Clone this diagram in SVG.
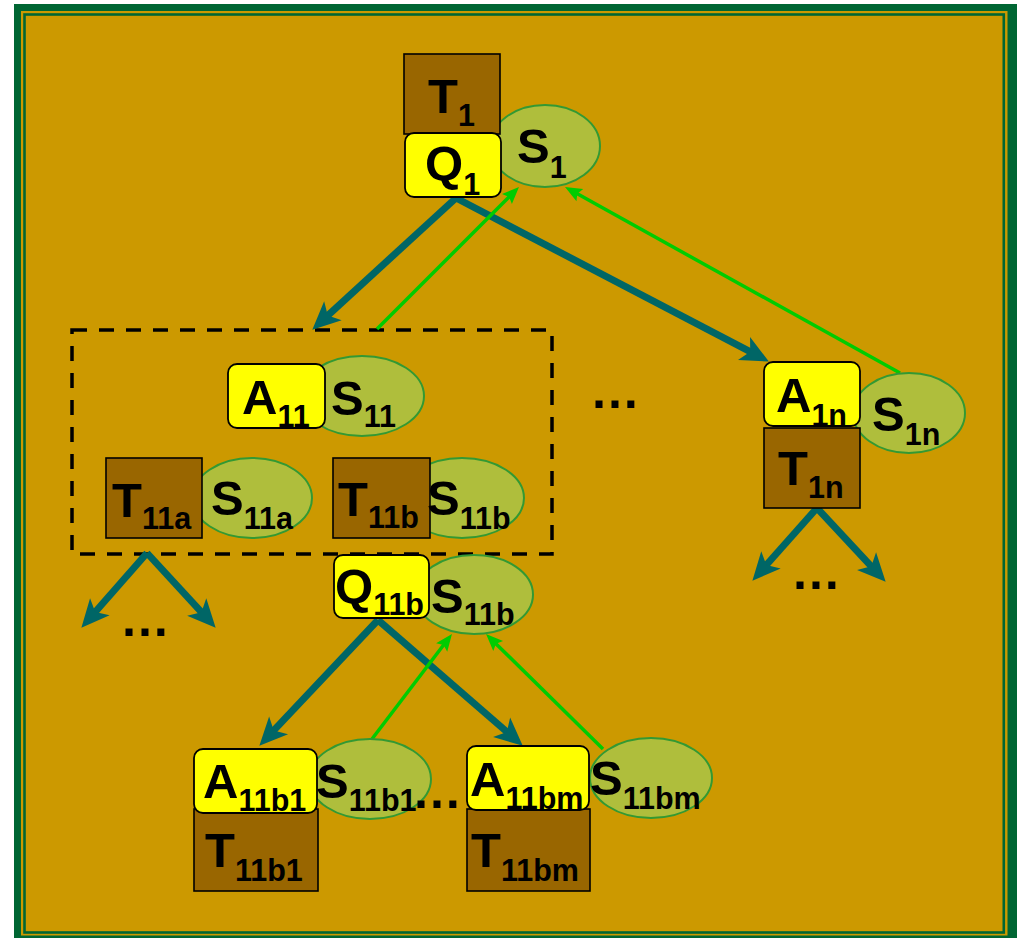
<svg xmlns="http://www.w3.org/2000/svg" width="1017" height="938" viewBox="0 0 1017 938">
<style>
text{font-family:"Liberation Sans",Arial,sans-serif;font-weight:bold;fill:#000;font-size:49px}
.sub{font-size:30.5px}
.box{fill:#996600;stroke:#000;stroke-width:1.6}
.act{fill:#FFFF00;stroke:#000;stroke-width:1.8}
.st{fill:#AFBE3C;stroke:#339933;stroke-width:2}
.down{stroke:#006666;stroke-width:7;fill:none;marker-end:url(#ah)}
.up{stroke:#00CC00;stroke-width:3.5;fill:none;marker-end:url(#gh)}
.dots{font-size:50px}
</style>
<defs>
<marker id="ah" markerUnits="userSpaceOnUse" markerWidth="30" markerHeight="28" refX="9" refY="13" orient="auto" overflow="visible">
<path d="M0,0 L28,13 L0,26 L7,13 z" fill="#006666"/>
</marker>
<marker id="gh" markerUnits="userSpaceOnUse" markerWidth="20" markerHeight="16" refX="5" refY="7" orient="auto" overflow="visible">
<path d="M0,0 L17,7 L0,14 L3,7 z" fill="#00CC00"/>
</marker>
</defs>
<g id="frame">
<rect x="14" y="4" width="1003" height="934" fill="#006633"/>
<rect x="21" y="11" width="986.5" height="924.5" fill="#CC9900"/>
<rect x="24.5" y="14.5" width="979.3" height="918" fill="none" stroke="#006633" stroke-width="2.6"/>
</g>
<rect id="group11" x="72" y="330" width="480" height="224" fill="none" stroke="#000" stroke-width="3.5" stroke-dasharray="15 12"/>
<g id="connectors">
<line class="down" x1="456" y1="198" x2="326.3" y2="316.8"/>
<line class="down" x1="456" y1="198" x2="752" y2="352.7"/>
<line class="down" x1="817" y1="508" x2="765" y2="566.5"/>
<line class="down" x1="817" y1="508" x2="872.7" y2="567.8"/>
<line class="down" x1="147" y1="553" x2="93.9" y2="613.5"/>
<line class="down" x1="147" y1="553" x2="202.8" y2="613.7"/>
<line class="down" x1="378" y1="620" x2="272.4" y2="731.9"/>
<line class="down" x1="378" y1="620" x2="508.4" y2="733.2"/>
<line class="up" x1="377" y1="329" x2="510.5" y2="195.5"/>
<line class="up" x1="900" y1="373" x2="575.5" y2="192.8"/>
<line class="up" x1="372" y1="739" x2="444.7" y2="643.5"/>
<line class="up" x1="603" y1="749" x2="494.6" y2="642.4"/>
</g>
<g id="S1"><ellipse class="st" cx="545" cy="146" rx="55" ry="41"/><text x="517" y="163">S<tspan class="sub" dy="15">1</tspan></text></g>
<g id="T1"><rect class="box" x="404" y="54" width="96" height="80"/><text x="428" y="113">T<tspan class="sub" dy="13">1</tspan></text></g>
<g id="Q1"><rect class="act" x="405" y="133" width="96" height="64" rx="9"/><text x="425" y="180">Q<tspan class="sub" dy="15">1</tspan></text></g>
<g id="S11"><ellipse class="st" cx="362" cy="396" rx="62" ry="40"/></g>
<g id="A11"><rect class="act" x="228" y="364" width="97" height="64" rx="9"/><text x="242" y="414">A<tspan class="sub" dy="13">11</tspan></text></g>
<text x="331" y="415">S<tspan class="sub" dy="12">11</tspan></text>
<g id="S11a"><ellipse class="st" cx="252" cy="498" rx="60" ry="40"/></g>
<g id="T11a"><rect class="box" x="106" y="458" width="96" height="80"/><text x="112" y="517">T<tspan class="sub" dy="12">11a</tspan></text></g>
<text x="211" y="515">S<tspan class="sub" dy="14">11a</tspan></text>
<g id="S11b-inner"><ellipse class="st" cx="462" cy="498" rx="62" ry="40"/></g>
<g id="T11b"><rect class="box" x="333" y="458" width="97" height="80"/><text x="338" y="516">T<tspan class="sub" dy="12">11b</tspan></text></g>
<text x="427" y="515">S<tspan class="sub" dy="14">11b</tspan></text>
<g id="S11b"><ellipse class="st" cx="474" cy="594.5" rx="59" ry="39.5"/></g>
<g id="Q11b"><rect class="act" x="334" y="555" width="95" height="63" rx="9"/><text x="335" y="603">Q<tspan class="sub" dy="12">11b</tspan></text></g>
<text x="431" y="613">S<tspan class="sub" dy="12">11b</tspan></text>
<g id="S1n"><ellipse class="st" cx="909" cy="413" rx="56" ry="40"/></g>
<g id="A1n"><rect class="act" x="764" y="362" width="96" height="64" rx="9"/><text x="776" y="412">A<tspan class="sub" dy="14">1n</tspan></text></g>
<g id="T1n"><rect class="box" x="764" y="428" width="96" height="80"/><text x="778" y="485">T<tspan class="sub" dy="13">1n</tspan></text></g>
<text x="872" y="431">S<tspan class="sub" dy="14">1n</tspan></text>
<g id="S11b1"><ellipse class="st" cx="370" cy="779" rx="61" ry="40"/></g>
<g id="T11b1"><rect class="box" x="194" y="809" width="124" height="82"/><text x="205" y="867">T<tspan class="sub" dy="14">11b1</tspan></text></g>
<g id="A11b1"><rect class="act" x="194" y="749" width="123" height="64" rx="9"/><text x="203" y="798">A<tspan class="sub" dy="13">11b1</tspan></text></g>
<text x="316" y="798">S<tspan class="sub" dy="13">11b1</tspan></text>
<g id="S11bm"><ellipse class="st" cx="651" cy="778" rx="61" ry="40"/></g>
<g id="T11bm"><rect class="box" x="467" y="809" width="123" height="82"/><text x="471" y="867">T<tspan class="sub" dy="14">11bm</tspan></text></g>
<g id="A11bm"><rect class="act" x="467" y="746" width="122" height="64" rx="9"/><text x="470" y="796">A<tspan class="sub" dy="13">11bm</tspan></text></g>
<text x="590" y="795">S<tspan class="sub" dy="14">11bm</tspan></text>
<g id="ellipses">
<text class="dots" x="590" y="408">…</text>
<text class="dots" x="120" y="636">…</text>
<text class="dots" x="791" y="589">…</text>
<text class="dots" x="412" y="808">…</text>
</g>
</svg>
